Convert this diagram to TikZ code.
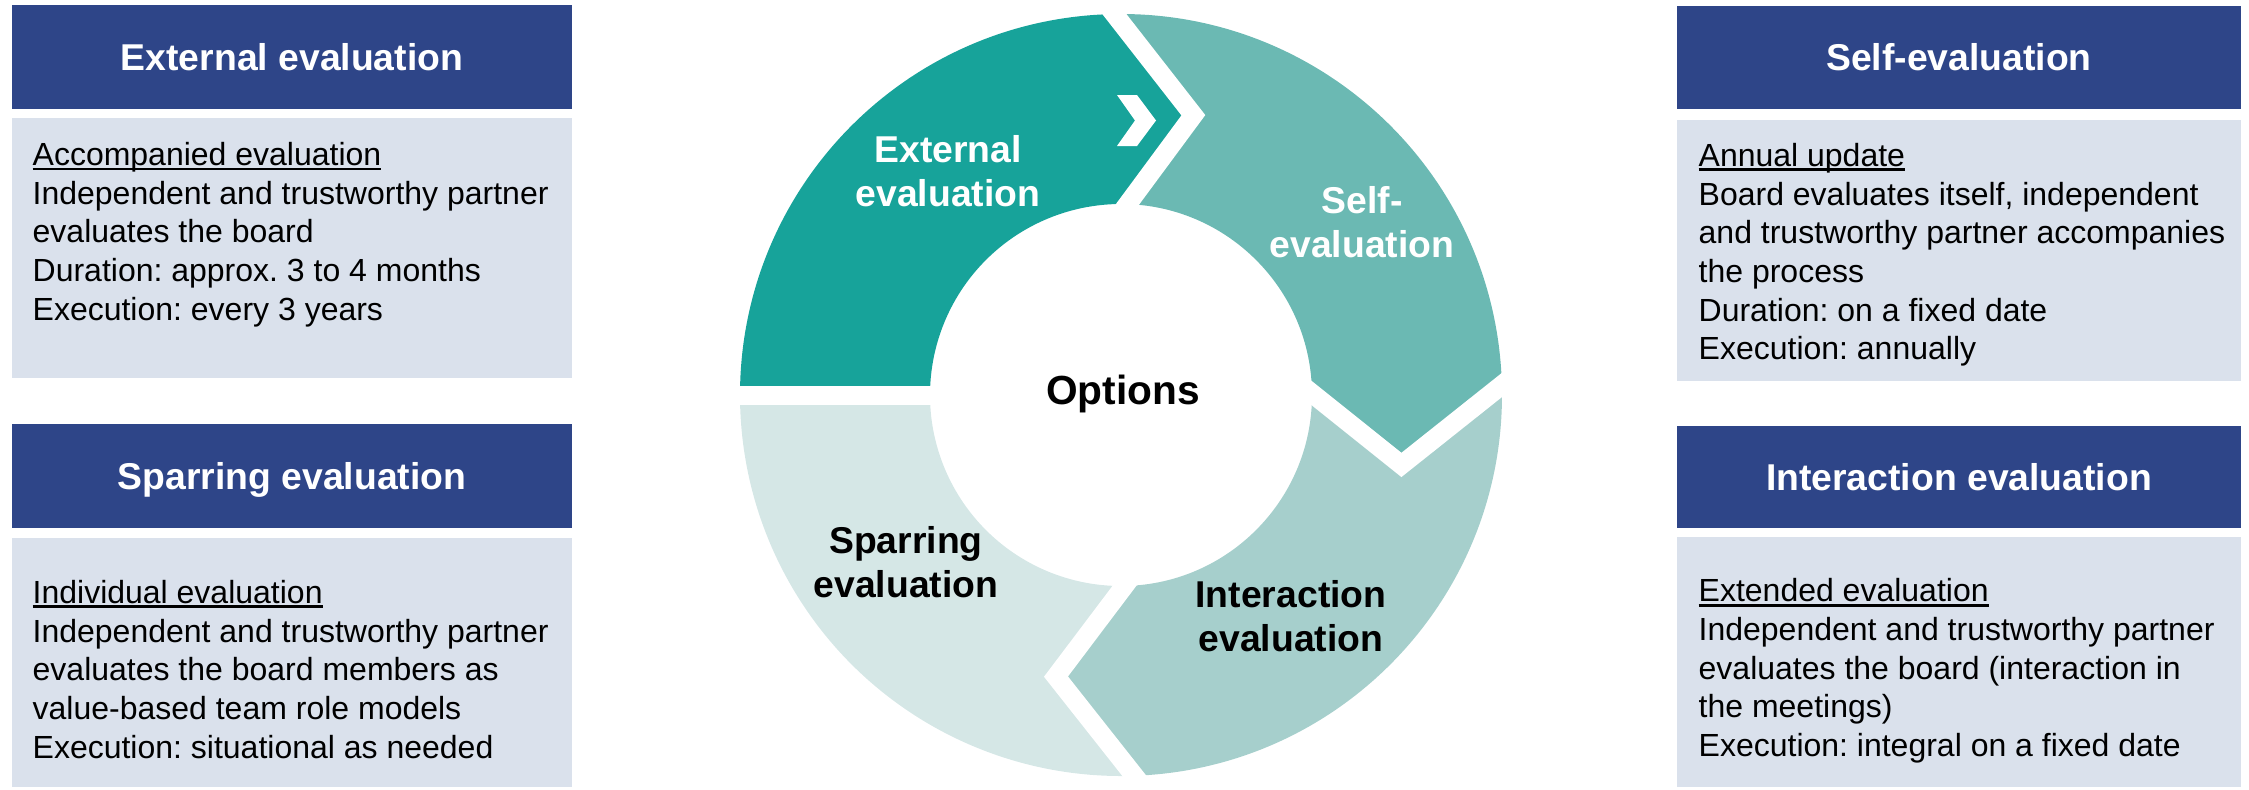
\documentclass[tikz,border=0pt]{standalone}
\usepackage{fontspec}
\setmainfont{Liberation Sans}
\usetikzlibrary{calc}
\frenchspacing

\definecolor{hdrblue}{HTML}{2E4588}
\definecolor{bodygray}{HTML}{DAE1EC}
\definecolor{ringA}{HTML}{17A39A}
\definecolor{ringB}{HTML}{6BB9B3}
\definecolor{ringC}{HTML}{A6CFCC}
\definecolor{ringD}{HTML}{D5E7E6}

% underline that sits just below the baseline, crossing descenders
\newcommand\ulinetext[1]{\setbox0=\hbox{#1}\rlap{\rule[-1.4pt]{\wd0}{0.8pt}}\box0}

\tikzset{
  hdrbox/.style={fill=hdrblue, draw=none, inner sep=0, text=white,
    font=\fontsize{11.2}{13}\selectfont\bfseries, text height=8pt, text depth=0pt},
  bodybox/.style={fill=bodygray, draw=none, inner sep=0},
  bodytext/.style={anchor=north west, align=left, inner sep=0,
    font=\fontsize{9.6}{11.6}\selectfont},
  ringlabel/.style={align=center, inner sep=0,
    font=\fontsize{11.2}{13.1}\selectfont\bfseries},
  gapline/.style={draw=white, line width=5.7pt, line join=miter, miter limit=20},
}

\begin{document}
\begin{tikzpicture}[x=0.3pt, y=0.3pt]
\useasboundingbox (0,0) rectangle (2249,-789);

% ---------- left column ----------
\node[hdrbox, minimum width=168pt, minimum height=31.2pt] (hext) at (292,-57) {External evaluation};
\node[bodybox, minimum width=168pt, minimum height=78pt] (bext) at (292,-248) {};
\node[bodytext] (text) at (32,-138.3) {\rule{0pt}{8pt}\ulinetext{Accompanied evaluation}\\
Independent and trustworthy partner\\
evaluates the board\\
Duration: approx. 3 to 4 months\\
Execution: every 3 years};

\node[hdrbox, minimum width=168pt, minimum height=31.2pt] (hspar) at (292,-476) {Sparring evaluation};
\node[bodybox, minimum width=168pt, minimum height=74.7pt] (bspar) at (292,-662.5) {};
\node[bodytext] (tspar) at (32,-576) {\rule{0pt}{8pt}\ulinetext{Individual evaluation}\\
Independent and trustworthy partner\\
evaluates the board members as\\
value-based team role models\\
Execution: situational as needed};

% ---------- right column ----------
\node[hdrbox, minimum width=169.2pt, minimum height=30.9pt] (hself) at (1959,-57.5) {Self-evaluation};
\node[bodybox, minimum width=169.2pt, minimum height=78.3pt] (bself) at (1959,-250.5) {};
\node[bodytext] (tself) at (1698,-139) {\rule{0pt}{8pt}\ulinetext{Annual update}\\
Board evaluates itself, independent\\
and trustworthy partner accompanies\\
the process\\
Duration: on a fixed date\\
Execution: annually};

\node[hdrbox, minimum width=169.2pt, minimum height=30.6pt] (hint) at (1959,-477) {Interaction evaluation};
\node[bodybox, minimum width=169.2pt, minimum height=75pt] (bint) at (1959,-662) {};
\node[bodytext] (tint) at (1698,-574.5) {\rule{0pt}{8pt}\ulinetext{Extended evaluation}\\
Independent and trustworthy partner\\
evaluates the board (interaction in\\
the meetings)\\
Execution: integral on a fixed date};

% ---------- ring of four options ----------
\begin{scope}[shift={(1121,-395)}]
  % boundary points: outer, tip, inner
  \coordinate (b1o) at (91:381);  \coordinate (b1t) at (75.5:289); \coordinate (b1i) at (88:191);
  \coordinate (b2o) at (1.5:381); \coordinate (b2t) at (-14:289);  \coordinate (b2i) at (0.5:191);
  \coordinate (b3o) at (-88:381); \coordinate (b3t) at (-103:289); \coordinate (b3i) at (-89:191);

  \fill[ringA] (180:381) arc[start angle=180, end angle=91, radius=381]
     -- (b1t) -- (b1i) arc[start angle=88, end angle=180, radius=191] -- cycle;
  \fill[ringB] (b1o) arc[start angle=91, end angle=1.5, radius=381]
     -- (b2t) -- (b2i) arc[start angle=0.5, end angle=88, radius=191] -- (b1t) -- cycle;
  \fill[ringC] (b2o) arc[start angle=1.5, end angle=-88, radius=381]
     -- (b3t) -- (b3i) arc[start angle=-89, end angle=0.5, radius=191] -- (b2t) -- cycle;
  \fill[ringD] (b3o) arc[start angle=-88, end angle=-180, radius=381]
     -- (180:191) arc[start angle=-180, end angle=-89, radius=191] -- (b3t) -- cycle;

  % white gaps between the segments
  \draw[gapline] ($(b1t)!1.2!(b1o)$) -- (b1t) -- ($(b1t)!1.25!(b1i)$);
  \draw[gapline] ($(b2t)!1.2!(b2o)$) -- (b2t) -- ($(b2t)!1.25!(b2i)$);
  \draw[gapline] ($(b3t)!1.2!(b3o)$) -- (b3t) -- ($(b3t)!1.25!(b3i)$);
  \draw[gapline] (180:400) -- (180:170);
\end{scope}

% small chevron on the first segment
\fill[white] (1117,-95) -- (1137,-95) -- (1156,-120.5) -- (1137,-146) -- (1117,-146) -- (1135,-120.5) -- cycle;

% ring labels
\node[ringlabel, text=white] (lext) at (948,-171) {External\\evaluation};
\node[ringlabel, text=white] (lself) at (1362,-222) {Self-\\evaluation};
\node[ringlabel] (lint) at (1291,-616) {Interaction\\evaluation};
\node[ringlabel] (lspar) at (906,-562) {Sparring\\evaluation};
\node[inner sep=0, anchor=base, font=\fontsize{12.2}{14}\selectfont\bfseries] (opts) at (1123,-404) {Options};
\end{tikzpicture}
\end{document}
